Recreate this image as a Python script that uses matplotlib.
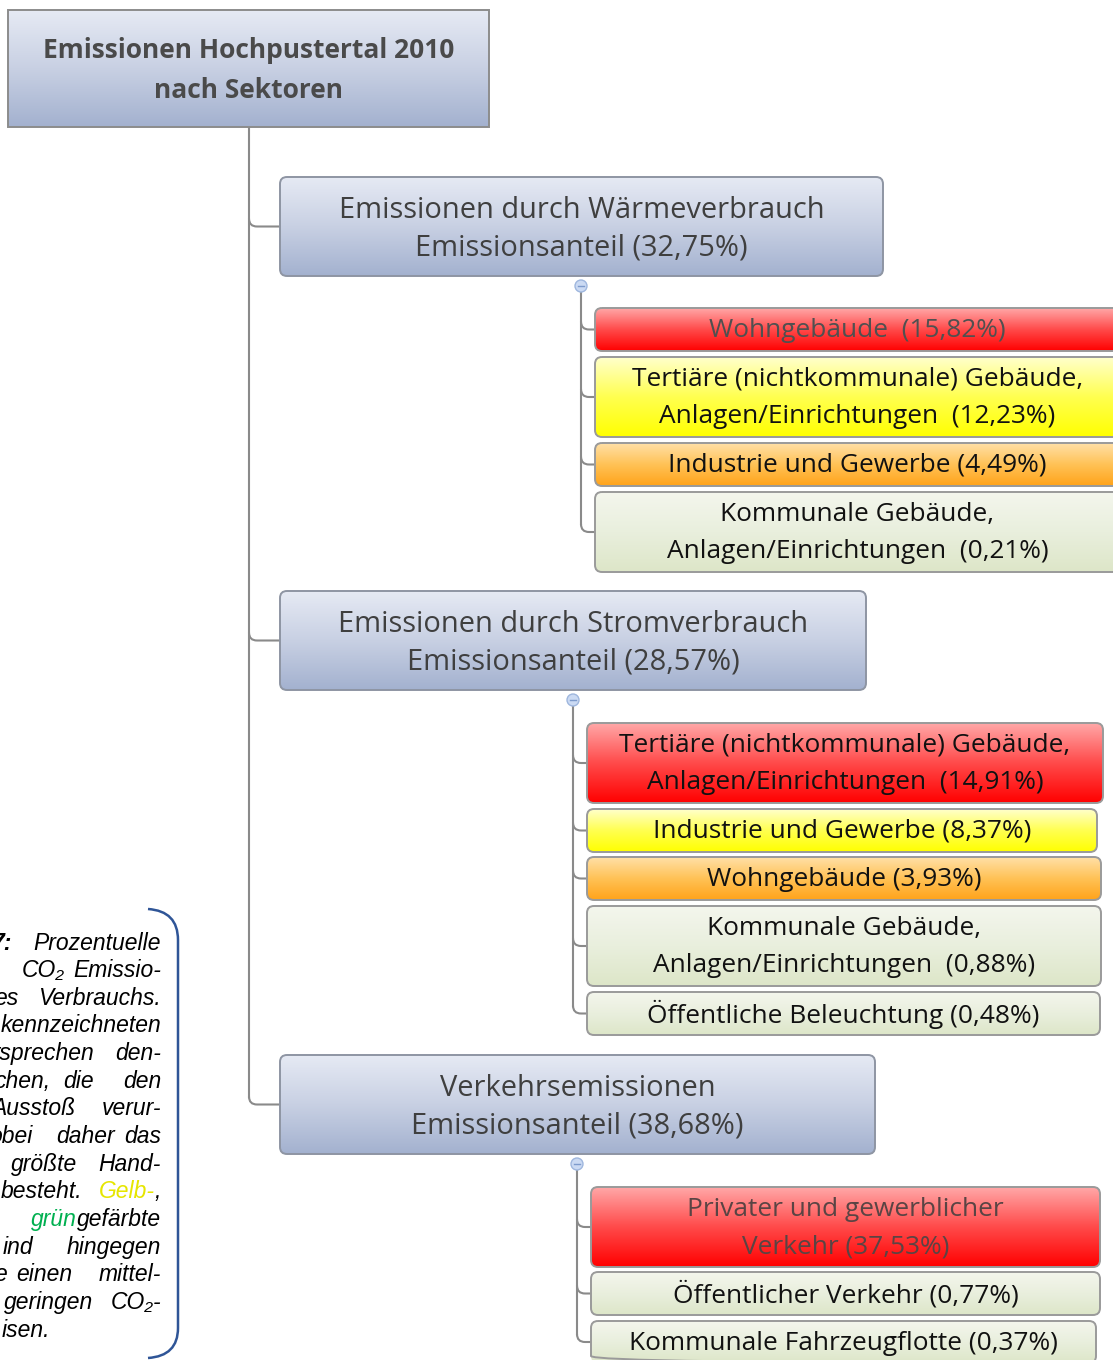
import numpy as np
import matplotlib
matplotlib.use('Agg')
import matplotlib.pyplot as plt
from matplotlib.patches import FancyBboxPatch, Circle, PathPatch
from matplotlib.path import Path
from matplotlib.colors import LinearSegmentedColormap

W, H = 1113, 1360

# --- Inhalte -------------------------------------------------------------
titel = ["Emissionen Hochpustertal 2010", "nach Sektoren"]
sektoren = ["Emissionen durch Wärmeverbrauch",
            "Emissionen durch Stromverbrauch",
            "Verkehrsemissionen"]
sektor_anteile = ["32,75%", "28,57%", "38,68%"]

waerme_namen = ["Wohngebäude ", "Tertiäre (nichtkommunale) Gebäude,\nAnlagen/Einrichtungen ",
                "Industrie und Gewerbe", "Kommunale Gebäude,\nAnlagen/Einrichtungen "]
waerme_anteile = ["15,82%", "12,23%", "4,49%", "0,21%"]
waerme_stufen = ["rot", "gelb", "orange", "gruen"]

strom_namen = ["Tertiäre (nichtkommunale) Gebäude,\nAnlagen/Einrichtungen ", "Industrie und Gewerbe",
               "Wohngebäude", "Kommunale Gebäude,\nAnlagen/Einrichtungen ", "Öffentliche Beleuchtung"]
strom_anteile = ["14,91%", "8,37%", "3,93%", "0,88%", "0,48%"]
strom_stufen = ["rot", "gelb", "orange", "gruen", "gruen"]

verkehr_namen = ["Privater und gewerblicher\nVerkehr", "Öffentlicher Verkehr", "Kommunale Fahrzeugflotte"]
verkehr_anteile = ["37,53%", "0,77%", "0,37%"]
verkehr_stufen = ["rot", "gruen", "gruen"]

legende_woerter = [
    ["7:", "Prozentuelle"],
    ["CO₂", "Emissio-"],
    ["es", "Verbrauchs."],
    ["kennzeichneten"],
    ["tsprechen", "den-"],
    ["chen,", "die", "den"],
    ["Ausstoß", "verur-"],
    ["obei", "daher", "das"],
    ["größte", "Hand-"],
    ["besteht.", "Gelb-,"],
    ["grüngefärbte"],
    ["ind", "hingegen"],
    ["e", "einen", "mittel-"],
    ["geringen", "CO₂-"],
    ["isen."],
]

# --- Layout (Pixel) -------------------------------------------------------
wurzel_box = (8, 10, 489, 127)
stamm_x = 249
sektor_boxen = [(280, 177, 883, 276), (280, 591, 866, 690), (280, 1055, 875, 1154)]
knoten = [(581, 286), (573, 700), (577, 1164)]
kind_boxen = [
    [(595, 308, 1120, 351), (595, 357, 1120, 437), (595, 443, 1120, 486), (595, 492, 1120, 572)],
    [(587, 723, 1103, 803), (587, 809, 1097, 852), (587, 857, 1101, 900),
     (587, 906, 1101, 986), (587, 992, 1100, 1035)],
    [(591, 1187, 1100, 1267), (591, 1272, 1100, 1315), (591, 1321, 1096, 1363)],
]
kind_textfarben = [["#505050", "#111111", "#111111", "#111111"],
                   ["#111111", "#111111", "#111111", "#111111", "#111111"],
                   ["#5a4444", "#111111", "#111111"]]
wort_enden = [[12, 161], [65, 161], [18, 161], [161], [95, 161], [50, 94, 161], [75, 161],
              [33, 115, 161], [77, 161], [82, 161], [161], [33, 161], [7, 72, 161], [93, 161], [50]]

verlauf = {
    "sektor": ["#e6eaf4", "#c8d0e3", "#a3b1cf"],
    "rot": ["#ffa8a8", "#ff4a4a", "#ff0000"],
    "gelb": ["#ffffcc", "#ffff50", "#ffff00"],
    "orange": ["#ffe0a8", "#ffc256", "#ffa31a"],
    "gruen": ["#f4f6ed", "#e9efdd", "#dde6c8"],
}
linie = "#8a8a8a"
box_font = "Open Sans"

fig = plt.figure(figsize=(W / 100, H / 100), dpi=100)
ax = fig.add_axes([0, 0, 1, 1])


def box(x0, y0, x1, y1, farben, rund=True, rand="#9a9a9a"):
    stil = "round,pad=0,rounding_size=7" if rund else "square,pad=0"
    p = FancyBboxPatch((x0, y0), x1 - x0, y1 - y0, boxstyle=stil, fc="none",
                       ec=rand, lw=1.4, zorder=3)
    ax.add_patch(p)
    cmap = LinearSegmentedColormap.from_list("v", farben)
    im = ax.imshow(np.linspace(0, 1, 256)[:, None], extent=(x0, x1, y1, y0),
                   cmap=cmap, aspect="auto", zorder=2, interpolation="bilinear")
    im.set_clip_path(p)


def zeilen(text, cx, cy, abstand, **kw):
    teile = text.split("\n")
    for i, t in enumerate(teile):
        y = cy + (i - (len(teile) - 1) / 2) * abstand
        ax.text(cx, y, t, ha="center", va="center", zorder=4, **kw)


def ast(x, y, bx):
    r = 8
    pfad = Path([(x, y - r), (x, y), (x + r, y), (bx, y)],
                [Path.MOVETO, Path.CURVE3, Path.CURVE3, Path.LINETO])
    ax.add_patch(PathPatch(pfad, fc="none", ec=linie, lw=1.5, zorder=1))


# Wurzel
x0, y0, x1, y1 = wurzel_box
box(x0, y0, x1, y1, verlauf["sektor"], rund=False, rand="#8c8c8c")
zeilen("\n".join(titel), (x0 + x1) / 2, (y0 + y1) / 2 + 1.5, 40,
       family=box_font, fontsize=19, fontweight="bold", color="#4a4a4a")

# Stamm
mitten = [(b[1] + b[3]) / 2 for b in sektor_boxen]
ax.plot([stamm_x, stamm_x], [y1, mitten[-1] - 8], color=linie, lw=1.5, zorder=1)
for m, b in zip(mitten, sektor_boxen):
    ast(stamm_x, m, b[0])

gruppen = [(waerme_namen, waerme_anteile, waerme_stufen),
           (strom_namen, strom_anteile, strom_stufen),
           (verkehr_namen, verkehr_anteile, verkehr_stufen)]

for s, (name, anteil) in enumerate(zip(sektoren, sektor_anteile)):
    x0, y0, x1, y1 = sektor_boxen[s]
    box(x0, y0, x1, y1, verlauf["sektor"], rand="#8e95a3")
    zeilen(f"{name}\nEmissionsanteil ({anteil})", (x0 + x1) / 2, (y0 + y1) / 2 + 2.5, 38,
           family=box_font, fontsize=20.9, color="#3f3f3f")

    kx, ky = knoten[s]
    namen, werte, stufen = gruppen[s]
    ymitten = [(b[1] + b[3]) / 2 for b in kind_boxen[s]]
    ax.plot([kx, kx], [ky, ymitten[-1] - 8], color=linie, lw=1.5, zorder=1)
    for i, (n, w, st) in enumerate(zip(namen, werte, stufen)):
        bx0, by0, bx1, by1 = kind_boxen[s][i]
        box(bx0, by0, bx1, by1, verlauf[st])
        ast(kx, ymitten[i], bx0)
        zeilen(f"{n} ({w})", (bx0 + bx1) / 2, (by0 + by1) / 2 + 1, 37,
               family=box_font, fontsize=18.9, color=kind_textfarben[s][i])
    ax.add_patch(Circle((kx, ky), 6, fc="#cbdaf3", ec="#9fb7de", lw=1, zorder=5))
    ax.plot([kx - 3, kx + 3], [ky, ky], color="#7e9bcc", lw=1, zorder=6)

# Bildunterschrift links
sonder = {
    "7:": [("7:", "#000000", "bold")],
    "Gelb-,": [("Gelb-", "#e6e600", "normal"), (",", "#000000", "normal")],
    "grüngefärbte": [("grün", "#00b050", "normal"), ("gefärbte", "#000000", "normal")],
}
renderer = fig.canvas.get_renderer()
y_start, y_schritt = 943, 27.65
for z, (woerter, enden) in enumerate(zip(legende_woerter, wort_enden)):
    y = y_start + z * y_schritt
    for wort, xe in zip(woerter, enden):
        teile = sonder.get(wort, [(wort, "#000000", "normal")])
        x = xe
        for txt, farbe, gew in reversed(teile):
            t = ax.text(x, y, txt, ha="right", va="center", fontsize=16.5, style="italic",
                        fontweight=gew, color=farbe, family=["Liberation Sans", "DejaVu Sans"])
            bb = t.get_window_extent(renderer)
            x -= bb.width

klammer = Path([(148, 909), (178, 911), (178, 940), (178, 1328), (178, 1356), (148, 1358)],
               [Path.MOVETO, Path.CURVE3, Path.CURVE3, Path.LINETO, Path.CURVE3, Path.CURVE3])
ax.add_patch(PathPatch(klammer, fc="none", ec="#2f5597", lw=1.8))

ax.set_xlim(0, W)
ax.set_ylim(H, 0)
ax.axis("off")
fig.savefig("out.png", dpi=100)
